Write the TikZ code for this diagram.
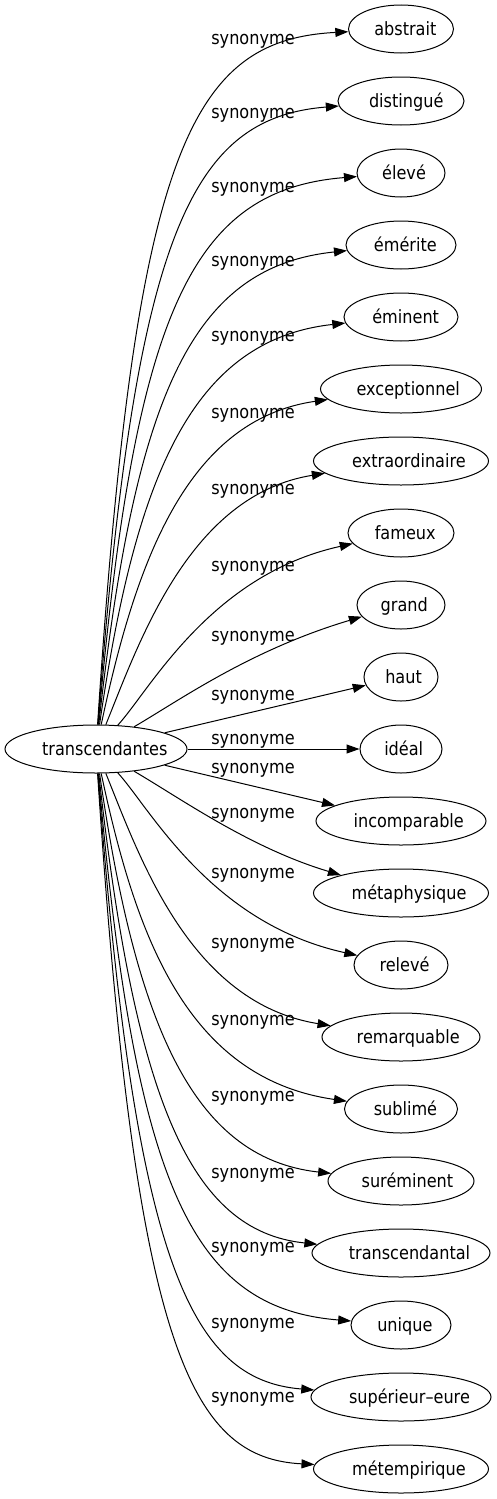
\documentclass[tikz,border=0pt]{standalone}
\usepackage{fontspec}
\setmainfont{DejaVu Sans}[FakeStretch=0.88]
\usetikzlibrary{arrows.meta,shapes.geometric}
\newcommand\shtxt[1]{\setbox0\hbox{#1}\hbox to\wd0{\kern0.07\wd0\unhcopy0\hss}}
\tikzset{
  word/.style={ellipse, draw, line width=1pt, inner sep=0pt, minimum height=48pt, text height=14pt, text depth=2pt},
  syn/.style={-{Triangle[length=13pt,width=9pt]}, line width=1pt},
  lbl/.style={anchor=base, inner sep=0pt}
}
\begin{document}
\begin{tikzpicture}[x=1pt,y=-1pt, font=\fontsize{18.3}{22}\selectfont]
\useasboundingbox (0,0) rectangle (496,1499);
\node[word, minimum width=182pt] (src) at (96,749) {\shtxt{transcendantes}};
\node[word, minimum width=105pt] (t1) at (401,29) {\shtxt{abstrait}};
\node[word, minimum width=126pt] (t2) at (401,101) {\shtxt{distingué}};
\node[word, minimum width=88pt] (t3) at (401,173) {\shtxt{élevé}};
\node[word, minimum width=110pt] (t4) at (401,245) {\shtxt{émérite}};
\node[word, minimum width=114pt] (t5) at (401,317) {\shtxt{éminent}};
\node[word, minimum width=161pt] (t6) at (401,389) {\shtxt{exceptionnel}};
\node[word, minimum width=175pt] (t7) at (401,461) {\shtxt{extraordinaire}};
\node[word, minimum width=106pt] (t8) at (401,533) {\shtxt{fameux}};
\node[word, minimum width=88pt] (t9) at (401,605) {\shtxt{grand}};
\node[word, minimum width=74pt] (t10) at (401,677) {\shtxt{haut}};
\node[word, minimum width=82pt] (t11) at (401,749) {\shtxt{idéal}};
\node[word, minimum width=170pt] (t12) at (401,821) {\shtxt{incomparable}};
\node[word, minimum width=175pt] (t13) at (401,893) {\shtxt{métaphysique}};
\node[word, minimum width=94pt] (t14) at (401,965) {\shtxt{relevé}};
\node[word, minimum width=158pt] (t15) at (401,1037) {\shtxt{remarquable}};
\node[word, minimum width=113pt] (t16) at (401,1109) {\shtxt{sublimé}};
\node[word, minimum width=146pt] (t17) at (401,1181) {\shtxt{suréminent}};
\node[word, minimum width=178pt] (t18) at (401,1253) {\shtxt{transcendantal}};
\node[word, minimum width=100pt] (t19) at (401,1325) {\shtxt{unique}};
\node[word, minimum width=180pt] (t20) at (401,1397) {\shtxt{supérieur–eure}};
\node[word, minimum width=175pt] (t21) at (401,1469) {\shtxt{métempirique}};

\draw[syn] (src) .. controls (135,150) and (190,40) .. (t1);
\draw[syn] (src) .. controls (135,235) and (190,118) .. (t2);
\draw[syn] (src) .. controls (135,314) and (190,190) .. (t3);
\draw[syn] (src) .. controls (135,398) and (190,267) .. (t4);
\draw[syn] (src) .. controls (135,480) and (190,340) .. (t5);
\draw[syn] (src) .. controls (135,566) and (185,420) .. (t6);
\draw[syn] (src) .. controls (140,640) and (190,495) .. (t7);
\draw[syn] (src) .. controls (150,690) and (210,575) .. (t8);
\draw[syn] (src) .. controls (180,700) and (250,650) .. (t9);
\draw[syn] (src) -- (t10);
\draw[syn] (src) -- (t11);
\draw[syn] (src) -- (t12);
\draw[syn] (src) .. controls (180,798) and (250,848) .. (t13);
\draw[syn] (src) .. controls (150,808) and (210,923) .. (t14);
\draw[syn] (src) .. controls (140,858) and (190,1003) .. (t15);
\draw[syn] (src) .. controls (135,932) and (185,1078) .. (t16);
\draw[syn] (src) .. controls (135,1018) and (190,1158) .. (t17);
\draw[syn] (src) .. controls (135,1100) and (190,1231) .. (t18);
\draw[syn] (src) .. controls (135,1184) and (190,1308) .. (t19);
\draw[syn] (src) .. controls (135,1263) and (190,1380) .. (t20);
\draw[syn] (src) .. controls (135,1348) and (190,1458) .. (t21);

\foreach \y [count=\i] in {38,112,186,260,335,412,488,565,635,694,738,767,812,872,942,1019,1095,1172,1246,1322,1396}
  \node[lbl] (l\i) at (253,\y+6.5) {synonyme};
\end{tikzpicture}
\end{document}
